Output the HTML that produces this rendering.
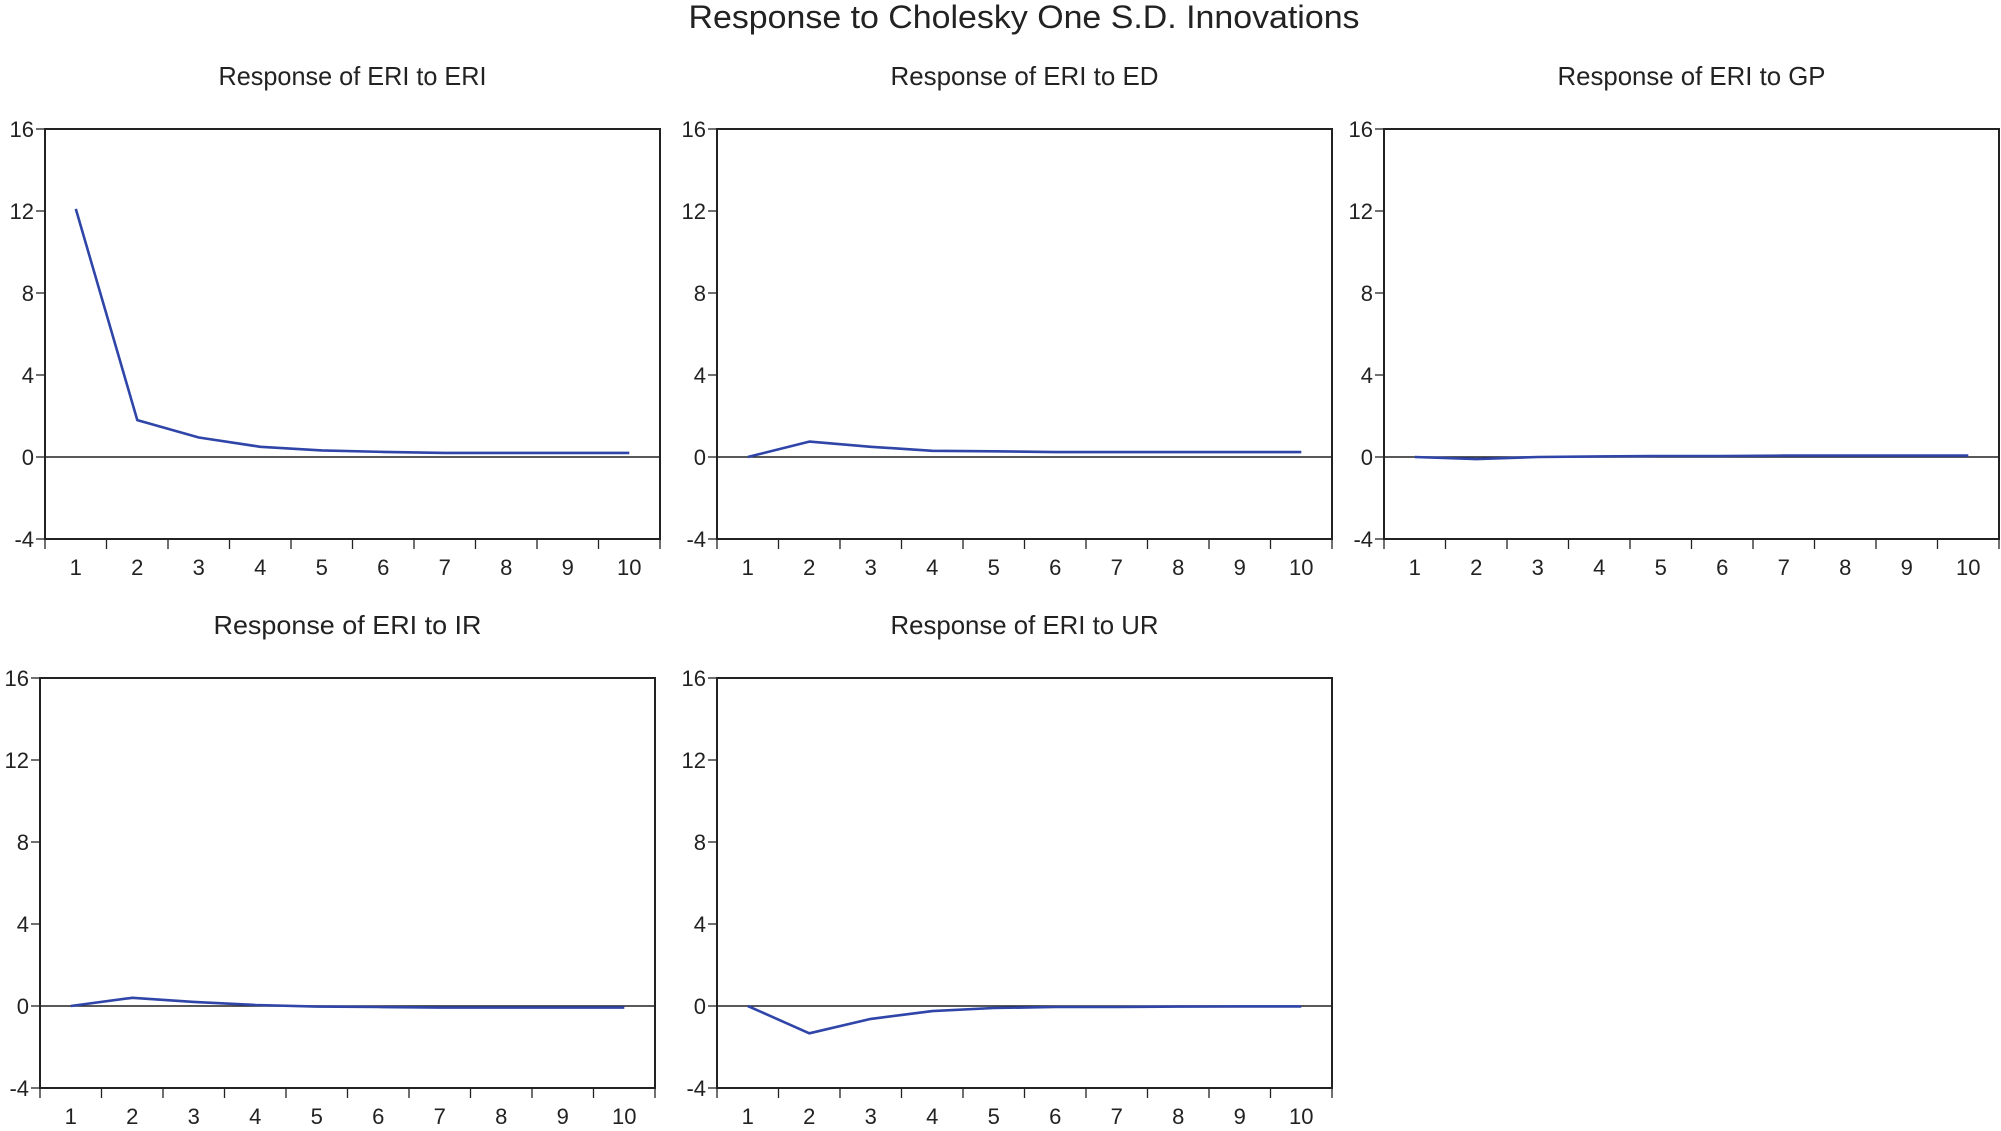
<!DOCTYPE html>
<html><head><meta charset="utf-8">
<style>
html,body{margin:0;padding:0;background:#fff;}
svg{display:block;font-family:"Liberation Sans",Arial,sans-serif;}
</style></head>
<body>
<svg id="chart" width="2001" height="1131" viewBox="0 0 2001 1131">
<text x="1024" y="28" font-size="32" text-anchor="middle" textLength="671" lengthAdjust="spacingAndGlyphs" fill="#222">Response to Cholesky One S.D. Innovations</text>
</svg>
<script>
const periods = [1,2,3,4,5,6,7,8,9,10];
const yTicks = [16,12,8,4,0,-4];
const panelTitles = ["Response of ERI to ERI","Response of ERI to ED","Response of ERI to GP","Response of ERI to IR","Response of ERI to UR"];
const seriesERI = [12.1,1.8,0.95,0.5,0.32,0.25,0.2,0.2,0.2,0.2];
const seriesED = [0,0.75,0.5,0.3,0.28,0.24,0.24,0.24,0.24,0.24];
const seriesGP = [0,-0.1,0,0.03,0.05,0.05,0.07,0.07,0.07,0.07];
const seriesIR = [0,0.4,0.2,0.05,-0.03,-0.05,-0.08,-0.08,-0.08,-0.08];
const seriesUR = [0,-1.33,-0.63,-0.25,-0.1,-0.05,-0.05,-0.03,-0.02,-0.02];
const allSeries = [seriesERI,seriesED,seriesGP,seriesIR,seriesUR];
const names = ["eri","ed","gp","ir","ur"];

const svg = document.getElementById('chart');
const NS = 'http://www.w3.org/2000/svg';
const layout = [
  {x:45,y:129},{x:717,y:129},{x:1384,y:129},
  {x:40,y:678},{x:717,y:678}
];
const W = 615, H = 410, yMin = -4, yMax = 16;

function mk(tag, attrs){
  const e = document.createElementNS(NS, tag);
  for (const k in attrs) e.setAttribute(k, attrs[k]);
  return e;
}

allSeries.forEach((vals, p) => {
  const L = layout[p];
  const g = mk('g', {});
  
  
  svg.appendChild(g);
  const band = W / periods.length;
  const xs = i => L.x + band * (i + 0.5);
  const ys = v => L.y + (yMax - v) / (yMax - yMin) * H;

  const t = mk('text', {x: L.x + W/2, y: L.y - 44, 'font-size': 26, 'text-anchor': 'middle', fill: '#222', textLength: 268, lengthAdjust: 'spacingAndGlyphs'});
  t.textContent = panelTitles[p];
  
  
  g.appendChild(t);

  yTicks.forEach(v => {
    const tk = mk('line', {x1: L.x - 9, x2: L.x, y1: ys(v), y2: ys(v), stroke: '#222', 'stroke-width': 1.3});
    
    
    g.appendChild(tk);
    const lb = mk('text', {x: L.x - 11, y: ys(v) + 8, 'font-size': 22, 'text-anchor': 'end', fill: '#222'});
    lb.textContent = v;
    
    
    g.appendChild(lb);
  });
  for (let i = 0; i <= periods.length; i++) {
    const x = L.x + band * i;
    const tk = mk('line', {x1: x, x2: x, y1: L.y + H, y2: L.y + H + 10, stroke: '#222', 'stroke-width': 1.3});
    
    
    g.appendChild(tk);
  }
  periods.forEach((pv, i) => {
    const lb = mk('text', {x: xs(i), y: L.y + H + 36, 'font-size': 22, 'text-anchor': 'middle', fill: '#222'});
    lb.textContent = pv;
    
    
    g.appendChild(lb);
  });
  const z = mk('line', {x1: L.x, x2: L.x + W, y1: ys(0), y2: ys(0), stroke: '#222', 'stroke-width': 1.4});
  
  
  g.appendChild(z);
  const pts = vals.map((v, i) => xs(i).toFixed(1) + ',' + ys(v).toFixed(1)).join(' ');
  const pl = mk('polyline', {points: pts, fill: 'none', stroke: '#2f45a8', 'stroke-width': 2.6, 'stroke-linejoin': 'round'});
  
  
  g.appendChild(pl);
  const fr = mk('rect', {x: L.x, y: L.y, width: W, height: H, fill: 'none', stroke: '#222', 'stroke-width': 2});
  
  
  g.appendChild(fr);
});
</script>
</body></html>
